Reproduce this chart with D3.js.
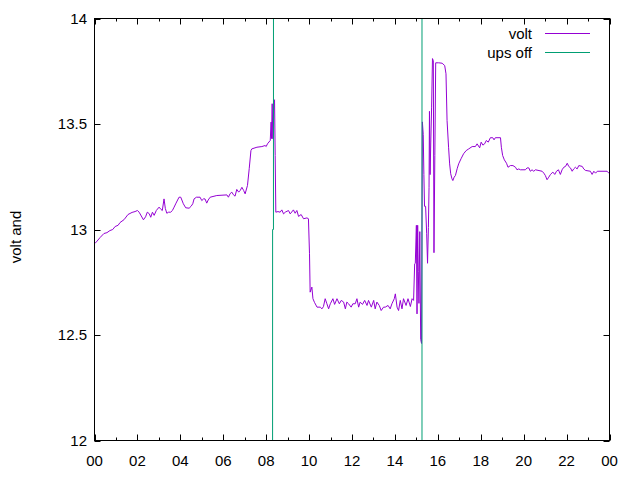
<!DOCTYPE html>
<html>
<head>
<meta charset="utf-8">
<script src="https://cdn.jsdelivr.net/npm/d3@7"></script>
<style>
  html, body { margin: 0; padding: 0; background: #fff; }
  svg { display: block; font-family: "Liberation Sans", Arial, sans-serif; }
</style>
</head>
<body>
<svg id="chart" width="640" height="480"></svg>
<script>
// ---- data (hours of day, volts) ----
const voltHours = [
  0.02,0.12,0.26,0.44,0.58,0.72,0.85,0.96,1.10,1.19,1.38,1.56,1.75,1.89,2.00,2.08,2.18,2.28,2.38,2.46,
  2.55,2.62,2.70,2.78,2.88,3.01,3.10,3.16,3.24,3.30,3.37,3.45,3.55,3.63,3.71,3.80,3.94,4.02,4.14,4.25,
  4.41,4.50,4.58,4.64,4.75,4.92,5.00,5.08,5.15,5.23,5.30,5.39,5.70,6.17,6.24,6.32,6.40,6.47,6.55,6.63,
  6.72,6.79,6.87,6.95,7.02,7.13,7.21,7.29,7.33,7.57,7.80,7.95,8.00,8.06,8.19,8.23,8.25,8.28,8.31,8.36,
  8.39,8.42,8.45,8.55,8.65,8.73,8.81,8.89,9.04,9.12,9.27,9.35,9.43,9.51,9.63,9.74,9.90,9.97,10.02,10.05,
  10.13,10.18,10.25,10.37,10.52,10.60,10.67,10.75,10.83,10.91,10.99,11.11,11.19,11.30,11.41,11.50,11.61,11.69,11.76,11.84,
  11.96,12.04,12.15,12.23,12.31,12.38,12.49,12.59,12.70,12.77,12.90,13.01,13.08,13.16,13.27,13.36,13.47,13.55,13.68,13.78,
  13.86,13.97,14.02,14.10,14.17,14.25,14.33,14.40,14.52,14.61,14.72,14.80,14.87,14.92,14.95,15.00,15.03,15.06,15.09,15.12,
  15.16,15.20,15.24,15.28,15.32,15.35,15.38,15.43,15.48,15.52,15.56,15.59,15.61,15.64,15.67,15.71,15.75,15.79,15.82,15.86,
  15.90,16.04,16.20,16.32,16.38,16.43,16.50,16.55,16.60,16.66,16.70,16.76,16.82,16.90,16.97,17.08,17.20,17.32,17.44,17.60,
  17.75,17.83,17.95,18.02,18.10,18.18,18.26,18.35,18.45,18.56,18.62,18.68,18.92,18.96,19.02,19.10,19.20,19.27,19.38,19.50,
  19.62,19.69,19.77,19.85,20.08,20.16,20.24,20.31,20.39,20.47,20.55,20.86,20.94,21.01,21.09,21.17,21.25,21.36,21.45,21.53,
  21.62,21.71,21.79,21.87,21.95,22.03,22.10,22.18,22.26,22.33,22.41,22.49,22.57,22.73,22.80,22.88,23.11,23.19,23.27,23.35,
  23.43,23.89,23.97,24.00
];
const voltValues = [
  12.934,12.945,12.962,12.981,12.985,12.995,13.000,13.014,13.020,13.033,13.047,13.071,13.081,13.085,13.090,13.082,13.064,13.046,13.060,13.082,
  13.075,13.058,13.082,13.067,13.090,13.106,13.095,13.090,13.145,13.100,13.077,13.082,13.082,13.090,13.106,13.125,13.153,13.153,13.122,13.103,
  13.101,13.110,13.122,13.145,13.153,13.153,13.137,13.145,13.145,13.125,13.140,13.153,13.161,13.164,13.153,13.170,13.177,13.165,13.158,13.190,
  13.177,13.185,13.200,13.185,13.169,13.209,13.288,13.374,13.382,13.390,13.393,13.398,13.393,13.406,13.422,13.509,13.431,13.596,13.430,13.611,
  13.615,13.351,13.082,13.085,13.082,13.093,13.074,13.082,13.090,13.074,13.093,13.077,13.090,13.062,13.071,13.051,13.055,13.051,12.885,12.703,
  12.727,12.672,12.655,12.632,12.632,12.624,12.635,12.672,12.648,12.624,12.648,12.672,12.645,12.672,12.648,12.664,12.656,12.624,12.656,12.648,
  12.632,12.648,12.648,12.672,12.632,12.656,12.645,12.664,12.640,12.664,12.632,12.664,12.624,12.656,12.640,12.616,12.632,12.632,12.640,12.624,
  12.648,12.672,12.695,12.632,12.616,12.664,12.624,12.672,12.640,12.672,12.635,12.672,12.664,12.837,12.840,13.020,12.600,13.020,12.800,12.650,
  12.990,12.480,12.460,13.510,13.450,13.260,13.110,13.110,12.980,12.840,13.010,13.200,13.560,13.260,13.410,13.580,13.810,13.800,12.890,13.350,
  13.790,13.790,13.788,13.777,13.738,13.517,13.390,13.311,13.264,13.240,13.232,13.248,13.256,13.288,13.311,13.335,13.359,13.374,13.382,13.393,
  13.393,13.406,13.387,13.414,13.400,13.406,13.422,13.414,13.435,13.435,13.425,13.435,13.435,13.390,13.351,13.330,13.314,13.295,13.303,13.303,
  13.295,13.283,13.287,13.283,13.283,13.292,13.292,13.276,13.283,13.276,13.283,13.276,13.267,13.256,13.236,13.248,13.261,13.272,13.261,13.276,
  13.283,13.261,13.283,13.295,13.299,13.314,13.299,13.292,13.276,13.287,13.295,13.287,13.303,13.299,13.287,13.280,13.276,13.261,13.276,13.267,
  13.276,13.276,13.267,13.267
];
const upsHours  = [0, 8.29, 8.30, 8.34, 8.345, 15.26, 15.265, 24];
const upsValues = [0, 0, 13, 13, 20, 20, 0, 0];
const seriesNames = ["volt", "ups off"];
const seriesColors = ["#9400d3", "#009e73"];
const xTickHours = [0, 2, 4, 6, 8, 10, 12, 14, 16, 18, 20, 22, 24];
const xTickLabels = ["00","02","04","06","08","10","12","14","16","18","20","22","00"];
const yTickValues = [12, 12.5, 13, 13.5, 14];
const yTickLabels = ["12","12.5","13","13.5","14"];
const yAxisTitle = "volt and";

// ---- layout ----
const svg = d3.select("#chart");
const L = 94.5, R = 609.5, T = 18.5, B = 440.5;
const FS = 15;
const x = d3.scaleLinear().domain([0, 24]).range([L, R]);
const y = d3.scaleLinear().domain([12, 14]).range([B, T]);

svg.append("defs").append("clipPath").attr("id", "plotclip")
  .append("rect").attr("x", L).attr("y", T).attr("width", R - L).attr("height", B - T);

// ticks (inward, on all four sides)
const g = svg.append("g").attr("stroke", "#000").attr("stroke-width", 1);
const minorHours = d3.range(1, 24, 2);
xTickHours.forEach(h => {
  const px = Math.round(x(h)) + 0.5;
  g.append("line").attr("x1", px).attr("x2", px).attr("y1", B).attr("y2", B - 6);
  g.append("line").attr("x1", px).attr("x2", px).attr("y1", T).attr("y2", T + 6);
});
minorHours.forEach(h => {
  const px = Math.round(x(h)) + 0.5;
  g.append("line").attr("x1", px).attr("x2", px).attr("y1", B).attr("y2", B - 3);
  g.append("line").attr("x1", px).attr("x2", px).attr("y1", T).attr("y2", T + 3);
});
yTickValues.forEach(v => {
  const py = Math.round(y(v)) + 0.5;
  g.append("line").attr("x1", L).attr("x2", L + 6).attr("y1", py).attr("y2", py);
  g.append("line").attr("x1", R).attr("x2", R - 6).attr("y1", py).attr("y2", py);
});

// tick labels
svg.append("g").selectAll("text").data(xTickHours).join("text")
  .attr("x", d => x(d)).attr("y", 466)
  .attr("text-anchor", "middle").attr("font-size", FS).attr("fill", "#000")
  .text((d, i) => xTickLabels[i]);
svg.append("g").selectAll("text").data(yTickValues).join("text")
  .attr("x", 87).attr("y", d => y(d) + 5)
  .attr("text-anchor", "end").attr("font-size", FS).attr("fill", "#000")
  .text((d, i) => yTickLabels[i]);

// axis title
svg.append("text")
  .attr("transform", "translate(21,237) rotate(-90)")
  .attr("text-anchor", "middle").attr("font-size", FS).attr("fill", "#000")
  .text(yAxisTitle);

// series
const line = d3.line().x(d => x(d[0])).y(d => y(d[1]));
const plot = svg.append("g").attr("clip-path", "url(#plotclip)");
plot.append("path")
  .datum(voltHours.map((h, i) => [h, voltValues[i]]))
  .attr("d", line).attr("fill", "none")
  .attr("stroke", seriesColors[0]).attr("stroke-width", 1);
plot.append("path")
  .datum(upsHours.map((h, i) => [h, upsValues[i]]))
  .attr("d", line).attr("fill", "none")
  .attr("stroke", seriesColors[1]).attr("stroke-width", 1);

// border
svg.append("rect").attr("x", L).attr("y", T).attr("width", R - L).attr("height", B - T)
  .attr("fill", "none").attr("stroke", "#000").attr("stroke-width", 1);

// legend
const legendY = [33.5, 52.5];
seriesNames.forEach((name, i) => {
  svg.append("text").attr("x", 532).attr("y", legendY[i] + 5)
    .attr("text-anchor", "end").attr("font-size", FS).attr("fill", "#000").text(name);
  svg.append("line").attr("x1", 545).attr("x2", 590)
    .attr("y1", legendY[i]).attr("y2", legendY[i])
    .attr("stroke", seriesColors[i]).attr("stroke-width", 1);
});
</script>
</body>
</html>
